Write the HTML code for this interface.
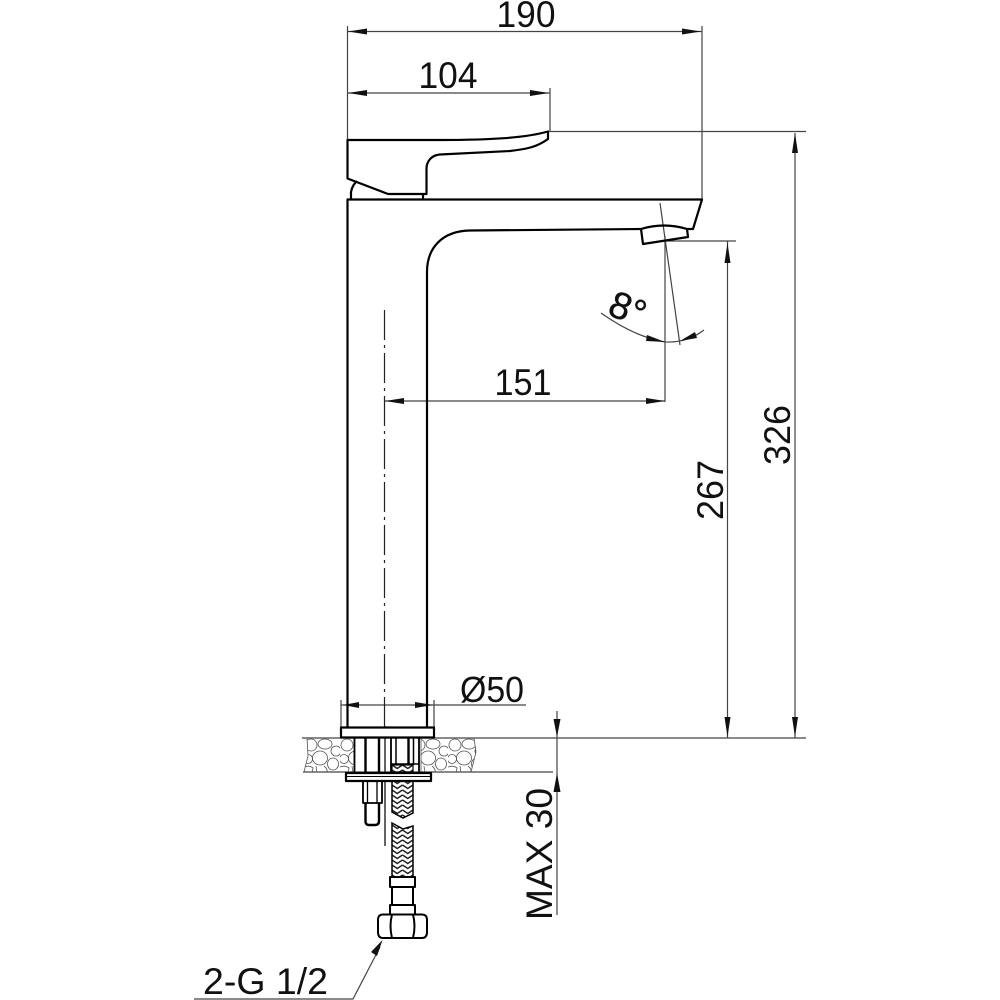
<!DOCTYPE html>
<html><head><meta charset="utf-8"><style>html,body{margin:0;padding:0;background:#fff}svg{display:block}text{font-family:"Liberation Sans",sans-serif;fill:#111}</style></head>
<body>
<svg width="1000" height="1000" viewBox="0 0 1000 1000" xmlns="http://www.w3.org/2000/svg">
<defs>
<pattern id="braid" x="392" y="0" width="10.500" height="5" patternUnits="userSpaceOnUse">
<path d="M0 0L5.250 3.500L10.500 0M0 5L5.250 8.500L10.500 5M0 -5L5.250 -1.500L10.500 -5" fill="none" stroke="#222" stroke-width="1.500"/>
</pattern>
<pattern id="stone" x="304" y="738" width="36" height="35" patternUnits="userSpaceOnUse">
<g fill="none" stroke="#555" stroke-width=".8"><circle cx="7" cy="7" r="6"/><ellipse cx="21" cy="6" rx="7" ry="5"/><circle cx="32" cy="13" r="5"/><ellipse cx="16" cy="20" rx="7.500" ry="7"/><circle cx="4" cy="21" r="4.500"/><ellipse cx="29" cy="26" rx="5.500" ry="6"/><path d="M0 29Q5 27 9 30L8 35M12 28L13 35M20 28Q24 31 23 35"/></g>
</pattern>
</defs>

<!-- stone -->
<path d="M307 738H354V772H304L308 756Z" fill="url(#stone)" stroke="#555" stroke-width=".8"/>
<path d="M421 738H474L476 752L471 772H421Z" fill="url(#stone)" stroke="#555" stroke-width=".8"/>

<!-- thin lines -->
<g fill="none" stroke="#444" stroke-width="1.200">
<path d="M347.500 26V140M702 26V199M347.500 31.500H702"/>
<path d="M550 88V131M347.500 93H550"/>
<path d="M548 131.500H806M795 133V738"/>
<path d="M664 241H736M727.500 241V738"/>
<path d="M665 236V402M385 401H665"/>
<path d="M660 203L680 345"/>
<path d="M601 313Q635 337 665 342Q687 343 704 330"/>
<path d="M341 705H526M341 700V727M434 700V727"/>
<path d="M302 738H806M303 772H553M557 711V915"/>
<path d="M194 999H353L380 947"/>
</g>
<path d="M384.500 310V726" fill="none" stroke="#222" stroke-width="1.200" stroke-dasharray="30 5 3 5"/>
<path d="M385 726V772M385 781V846" fill="none" stroke="#222" stroke-width="1.400"/>

<!-- arrowheads -->
<g fill="#111">
<path d="M348 31.500L367 28.500V34.500Z"/><path d="M701 31.500L682 28.500V34.500Z"/>
<path d="M348 93L367 90V96Z"/><path d="M549 93L530 90V96Z"/>
<path d="M795 133L792 153H798Z"/><path d="M795 737L792 717H798Z"/>
<path d="M727.500 243L724.500 263H730.500Z"/><path d="M727.500 737L724.500 717H730.500Z"/>
<path d="M385 401L404 398V404Z"/><path d="M665 401L646 398V404Z"/>
<path d="M343 705L359 702V708Z"/><path d="M433 705L415 702V708Z"/>
<path d="M557 737L553.500 719H560.500Z"/><path d="M557 773L553.500 792H560.500Z"/>
<path d="M665 342L647 335L646 341Z"/><path d="M680 341L695 332L697 338Z"/>
<path d="M382.500 940L377 956L371 952Z"/>
</g>

<!-- faucet -->
<g fill="none" stroke="#000" stroke-width="2.200" stroke-linejoin="round">
<path d="M347.500 140H440C490 140 525 138 548 131.500V139C537 147 527 149 510 151L440 154.500C432 155 426 161 426.500 170V194H388L347.500 178.500Z"/>
<path d="M351 199V192C352 186 355 183 357 181M423 194V199"/>
<path d="M347.500 731V199.500H702L693 229H687"/>
<path d="M641 229L470 230.500C442 231 427 248 427 272V727"/>
<path d="M641 229Q664 222 687 229L688 237L643 244Z"/>
<rect x="341" y="727.500" width="93" height="10" fill="#fff"/>
<!-- under-deck -->
<path d="M354.500 738V772M391 738V772M419 738V772" stroke-width="1.800"/>
<path d="M365.500 738V772M379 738V772M408.500 738V765" stroke-width="2.400"/>
<path d="M396 738V765M413.500 738V765M391 764H419" stroke-width="1.500"/>
<path d="M346 773H431V781H346Z" fill="#fff"/>
<path d="M346 776.500H431" stroke-width="1"/>
<path d="M363 781V803H382V781" stroke-width="1.800"/>
<path d="M367.500 781V803M377 781V803" stroke-width="1.300"/>
<path d="M365.500 803V821Q365.500 825 369 825H375Q379 825 379 821V803" stroke-width="2.400"/>
</g>
<rect x="392" y="765" width="21" height="7" fill="url(#braid)" stroke="#000" stroke-width="1.200"/>
<path d="M392 781H413V813L403 818L392 812Z" fill="url(#braid)" stroke="#000" stroke-width="1.500"/>
<path d="M392 823L403 829L413 826V877H392Z" fill="url(#braid)" stroke="#000" stroke-width="1.500"/>
<g fill="#fff" stroke="#000" stroke-width="2" stroke-linejoin="round">
<rect x="390" y="877" width="25" height="10"/>
<rect x="392" y="887" width="21" height="18"/>
<rect x="390" y="905" width="25" height="9.500"/>
<path d="M383 914.500H422Q426.500 914.500 427 919V933Q426.500 938 422 938H383Q378.500 938 378 933V919Q378.500 914.500 383 914.500Z"/>
<path d="M392 914.500Q389 926 392 938M413 914.500Q416 926 413 938" fill="none"/>
</g>

<!-- labels -->
<text x="526" y="27" font-size="37" text-anchor="middle" textLength="59" lengthAdjust="spacingAndGlyphs">190</text>
<text x="448" y="88" font-size="37" text-anchor="middle" textLength="59" lengthAdjust="spacingAndGlyphs">104</text>
<text x="523" y="395" font-size="37" text-anchor="middle" textLength="57" lengthAdjust="spacingAndGlyphs">151</text>
<text x="492" y="702" font-size="36" text-anchor="middle" textLength="64" lengthAdjust="spacingAndGlyphs">Ø50</text>
<text transform="translate(606,314) rotate(22)" font-size="38" stroke="#111" stroke-width=".4">8°</text>
<text transform="translate(790,435) rotate(-90)" font-size="37" text-anchor="middle" textLength="60" lengthAdjust="spacingAndGlyphs">326</text>
<text transform="translate(723,490) rotate(-90)" font-size="37" text-anchor="middle" textLength="60" lengthAdjust="spacingAndGlyphs">267</text>
<text transform="translate(552,854) rotate(-90)" font-size="37" text-anchor="middle" textLength="132" lengthAdjust="spacingAndGlyphs">MAX 30</text>
<text x="203" y="994" font-size="37" textLength="125" lengthAdjust="spacingAndGlyphs">2-G 1/2</text>
</svg>
</body></html>
